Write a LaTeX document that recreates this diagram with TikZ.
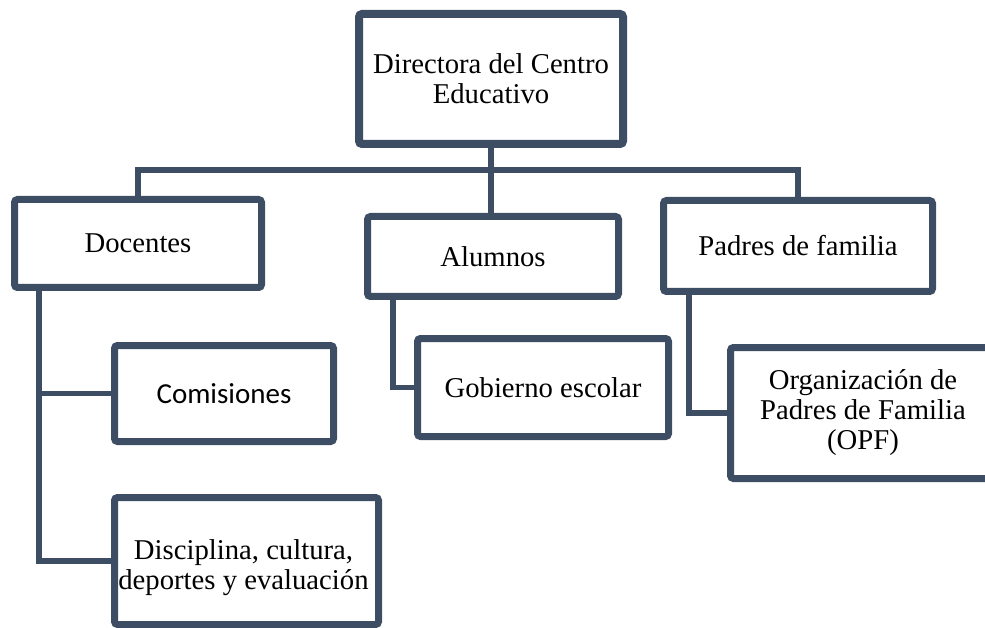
\documentclass[tikz,border=0pt]{standalone}
\usepackage{fontspec}
\setmainfont{Liberation Serif}
\newfontfamily\carlitofont{Carlito}
\usetikzlibrary{shadows,backgrounds}
\definecolor{slate}{HTML}{3D4D63}
\tikzset{
  box/.style={draw=slate, line width=7pt, rounded corners=3pt, fill=white,
    align=center, inner sep=0pt, font=\fontsize{28.7}{30}\selectfont,
    drop shadow={shadow xshift=1.5pt, shadow yshift=-3pt, opacity=0.25, fill=black}},
  lbl/.style={align=center, inner sep=0pt, font=\fontsize{28.7}{30}\selectfont},
  conn/.style={draw=slate, line width=5.5pt}
}
\begin{document}
\begin{tikzpicture}[x=1pt,y=-1pt]
\useasboundingbox (0,0) rectangle (985,628);
\clip (0,0) rectangle (985,628);
\node[box, line width=8pt, minimum width=264pt, minimum height=130pt] (dir) at (491,79) {Directora del Centro\\Educativo};
\node[box, minimum width=247pt, minimum height=88pt] (doc) at (138,243.5) {Docentes};
\node[box, minimum width=251pt, minimum height=80pt] (alu) at (493,256.5) {Alumnos};
\node[box, minimum width=269pt, minimum height=91pt] (pad) at (798,246) {Padres de familia};
\node[box, minimum width=219pt, minimum height=96pt, font=\carlitofont\fontsize{29}{30}\selectfont] (com) at (224,393.5) {Comisiones};
\node[box, minimum width=264pt, minimum height=127pt,
  label={[lbl, yshift=-6.5pt, xshift=-3pt]center:{Disciplina, cultura,\\deportes y evaluación}}] (disc) at (246.5,561) {};
\node[box, minimum width=251pt, minimum height=98pt] (gob) at (543,387.5) {Gobierno escolar};
\node[box, minimum width=265pt, minimum height=131pt] (org) at (863,413) {Organización de\\Padres de Familia\\(OPF)};
\begin{scope}[on background layer]
  \coordinate (bus) at ([yshift=-22pt]dir.south);
  \draw[conn] (dir.south) -- (dir.south |- alu.north);
  \draw[conn] (doc.north) |- (bus) -| (pad.north);
  \coordinate (docdown) at ([xshift=28pt]doc.south west);
  \draw[conn] (docdown) |- (com.west);
  \draw[conn] (docdown) |- (disc.west);
  \coordinate (aludown) at ([xshift=29pt]alu.south west);
  \draw[conn] (aludown) |- (gob.west);
  \coordinate (paddown) at ([xshift=29pt]pad.south west);
  \draw[conn] (paddown) |- (org.west);
\end{scope}
\end{tikzpicture}
\end{document}
